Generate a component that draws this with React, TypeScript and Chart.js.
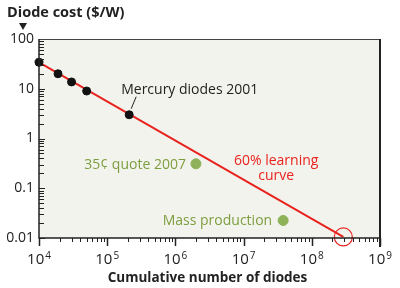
import React, { useEffect, useRef } from 'react';
import { Chart, registerables } from 'chart.js';
Chart.register(...registerables);

// Data
const curveX = [1e4, 2.9e8];
const curveY = [34, 0.0105];
const mercuryX = [1e4, 1.9e4, 3e4, 5e4, 2.1e5];
const mercuryY = [34, 20, 13.7, 9, 3];
const quoteX = [2e6];
const quoteY = [0.31];
const massX = [3.8e7];
const massY = [0.0225];
const targetX = [2.9e8];
const targetY = [0.0105];
const yTickValues = [100, 10, 1, 0.1, 0.01];
const yTickLabels = ['100', '10', '1', '0.1', '0.01'];
const xTickExponents = [4, 5, 6, 7, 8, 9];
const yTitle = 'Diode cost ($/W)';
const xTitle = 'Cumulative number of diodes';
const mercuryLabel = 'Mercury diodes 2001';
const quoteLabel = '35¢ quote 2007';
const massLabel = 'Mass production';
const curveLabel = ['60% learning', 'curve'];

const RED = '#e8231e';
const GREEN_DOT = '#8db258';
const GREEN_TEXT = '#7d9e3e';
const INK = '#222222';
const FONT = '"Open Sans", "DejaVu Sans", sans-serif';

const pts = (xs: number[], ys: number[]) => xs.map((x, i) => ({ x, y: ys[i] }));

const decorPlugin = {
  id: 'decor',
  beforeDraw(chart: any) {
    const { ctx, chartArea: a } = chart;
    ctx.save();
    ctx.fillStyle = '#ffffff';
    ctx.fillRect(0, 0, chart.width, chart.height);
    ctx.fillStyle = '#f3f3ee';
    ctx.fillRect(a.left, a.top, a.right - a.left, a.bottom - a.top);
    ctx.restore();
  },
  afterDraw(chart: any) {
    const { ctx, chartArea: a } = chart;
    const xs = chart.scales.x;
    const ys = chart.scales.y;
    ctx.save();
    // borders
    ctx.strokeStyle = '#444';
    ctx.lineWidth = 1;
    ctx.beginPath();
    ctx.moveTo(a.left, a.top + 0.5);
    ctx.lineTo(a.right, a.top + 0.5);
    ctx.stroke();
    ctx.strokeStyle = INK;
    ctx.lineWidth = 2;
    ctx.beginPath();
    ctx.moveTo(a.right, a.top);
    ctx.lineTo(a.right, a.bottom + 9);
    ctx.stroke();
    ctx.lineWidth = 1.5;
    ctx.beginPath();
    ctx.moveTo(a.left, a.top);
    ctx.lineTo(a.left, a.bottom);
    ctx.lineTo(a.right, a.bottom);
    ctx.stroke();
    // y ticks (inside)
    ctx.lineWidth = 1;
    for (let d = -2; d < 2; d++) {
      for (let m = 1; m <= 9; m++) {
        const v = m * Math.pow(10, d);
        const py = Math.round(ys.getPixelForValue(v)) + 0.5;
        ctx.beginPath();
        ctx.moveTo(a.left, py);
        ctx.lineTo(a.left + (m === 1 ? 6 : 5), py);
        ctx.stroke();
      }
    }
    // x ticks (outside, downward)
    for (let d = 4; d <= 9; d++) {
      for (let m = 1; m <= 9; m++) {
        if (d === 9 && m > 1) break;
        const v = m * Math.pow(10, d);
        const px = Math.round(xs.getPixelForValue(v)) + 0.5;
        ctx.lineWidth = m === 1 ? 1.5 : 1;
        ctx.beginPath();
        ctx.moveTo(px, a.bottom);
        ctx.lineTo(px, a.bottom + (m === 1 ? 8 : 4));
        ctx.stroke();
      }
    }
    // x tick labels with superscripts
    ctx.fillStyle = INK;
    ctx.textBaseline = 'alphabetic';
    xTickExponents.forEach((e) => {
      const px = xs.getPixelForValue(Math.pow(10, e));
      ctx.font = `15px ${FONT}`;
      const base = '10';
      const wb = ctx.measureText(base).width;
      ctx.font = `10px ${FONT}`;
      const we = ctx.measureText(String(e)).width;
      const total = wb + we + 1;
      const left = px - total / 2;
      ctx.font = `15px ${FONT}`;
      ctx.textAlign = 'left';
      ctx.fillText(base, left, 264);
      ctx.font = `10px ${FONT}`;
      ctx.fillText(String(e), left + wb + 1, 259);
    });
    // axis titles
    ctx.font = `bold 13.5px ${FONT}`;
    ctx.textAlign = 'center';
    ctx.fillText(xTitle, (a.left + a.right) / 2 - 2, 282);
    ctx.font = `bold 14.5px ${FONT}`;
    ctx.textAlign = 'left';
    ctx.fillText(yTitle, 7, 17);
    // triangle
    ctx.beginPath();
    ctx.moveTo(19, 23);
    ctx.lineTo(27, 23);
    ctx.lineTo(23, 30);
    ctx.closePath();
    ctx.fill();
    // annotations
    const mx = xs.getPixelForValue(mercuryX[4]);
    const my = ys.getPixelForValue(mercuryY[4]);
    ctx.strokeStyle = INK;
    ctx.lineWidth = 1;
    ctx.beginPath();
    ctx.moveTo(mx + 2, my - 6);
    ctx.lineTo(mx + 7, my - 18);
    ctx.stroke();
    ctx.font = `14px ${FONT}`;
    ctx.fillStyle = INK;
    ctx.textAlign = 'left';
    ctx.fillText(mercuryLabel, mx - 8, my - 21);

    ctx.fillStyle = GREEN_TEXT;
    ctx.textAlign = 'right';
    ctx.textBaseline = 'middle';
    const qx = xs.getPixelForValue(quoteX[0]);
    const qy = ys.getPixelForValue(quoteY[0]);
    ctx.fillText(quoteLabel, qx - 10, qy + 1);
    const sx = xs.getPixelForValue(massX[0]);
    const sy = ys.getPixelForValue(massY[0]);
    ctx.fillText(massLabel, sx - 11, sy + 1);

    ctx.fillStyle = RED;
    ctx.textAlign = 'center';
    const cx = xs.getPixelForValue(3e7);
    ctx.fillText(curveLabel[0], cx, ys.getPixelForValue(0.35));
    ctx.fillText(curveLabel[1], cx, ys.getPixelForValue(0.35) + 15);
    ctx.restore();
  },
};

export default function App() {
  const ref = useRef<HTMLCanvasElement | null>(null);
  useEffect(() => {
    if (!ref.current) return;
    const chart = new Chart(ref.current, {
      type: 'scatter',
      data: {
        datasets: [
          {
            label: 'Mercury',
            data: pts(mercuryX, mercuryY),
            backgroundColor: '#111',
            borderColor: '#111',
            pointRadius: 4,
            order: 0,
            clip: false,
          } as any,
          {
            label: 'Quote',
            data: pts(quoteX, quoteY),
            backgroundColor: GREEN_DOT,
            borderColor: GREEN_DOT,
            pointRadius: 5,
            order: 1,
          },
          {
            label: 'Mass',
            data: pts(massX, massY),
            backgroundColor: GREEN_DOT,
            borderColor: GREEN_DOT,
            pointRadius: 5,
            order: 1,
          },
          {
            label: 'Target',
            data: pts(targetX, targetY),
            backgroundColor: 'rgba(0,0,0,0)',
            borderColor: RED,
            borderWidth: 1.2,
            pointRadius: 9,
            order: 2,
            clip: false,
          } as any,
          {
            type: 'line',
            label: 'Curve',
            data: pts(curveX, curveY),
            borderColor: RED,
            borderWidth: 2,
            pointRadius: 0,
            showLine: true,
            fill: false,
            order: 3,
            clip: false,
          } as any,
        ],
      },
      options: {
        animation: false,
        responsive: false,
        devicePixelRatio: 1,
        layout: { padding: { top: 39, right: 20, left: 0, bottom: 0 } },
        plugins: { legend: { display: false }, tooltip: { enabled: false }, title: { display: false } },
        scales: {
          x: {
            type: 'logarithmic',
            min: 1e4,
            max: 1e9,
            grid: { display: false, drawTicks: false },
            border: { display: false },
            ticks: { display: false },
            afterFit: (s: any) => { s.height = 50; },
          },
          y: {
            type: 'logarithmic',
            min: 0.01,
            max: 100,
            grid: { display: false, drawTicks: false },
            border: { display: false },
            afterBuildTicks: (s: any) => { s.ticks = yTickValues.map((v) => ({ value: v })); },
            ticks: {
              color: INK,
              padding: 5,
              font: { family: FONT, size: 14 },
              callback: (v: any) => {
                const i = yTickValues.findIndex((t) => Math.abs(t - v) / t < 1e-6);
                return i >= 0 ? yTickLabels[i] : '';
              },
            },
            afterFit: (s: any) => { s.width = 39; },
          },
        },
      } as any,
      plugins: [decorPlugin],
    });
    return () => chart.destroy();
  }, []);
  return (
    <div style={{ position: 'absolute', left: 0, top: 0, width: 400, height: 288 }}>
      <canvas ref={ref} width={400} height={288} style={{ width: 400, height: 288 }} />
    </div>
  );
}
